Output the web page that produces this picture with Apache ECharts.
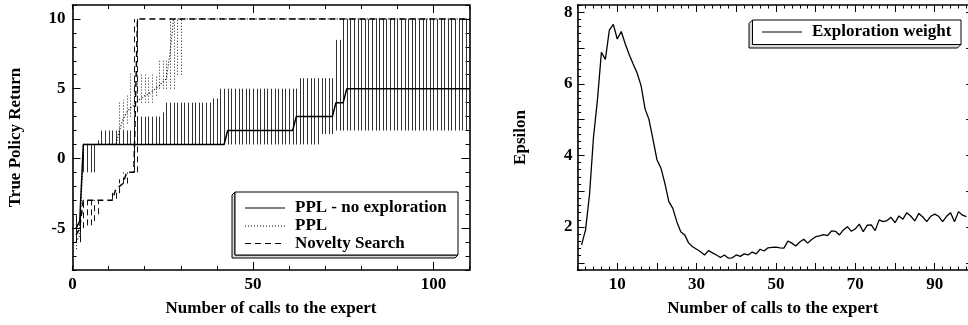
<!DOCTYPE html>
<html>
<head>
<meta charset="utf-8">
<script src="https://cdn.jsdelivr.net/npm/echarts@6/dist/echarts.min.js"></script>
<style>
  html, body { margin: 0; padding: 0; background: #fff; }
  #chart { width: 968px; height: 325px; }
</style>
</head>
<body>
<div id="chart"></div>
<script>
// ---- Left panel: true policy return per number of expert calls (x = 1..110) ----
// PPL - no exploration: median, lower and upper bounds
const noExpMed = [
  -5, -4.5, 1, 1, 1, 1, 1, 1, 1, 1,
  1, 1, 1, 1, 1, 1, 1, 1, 1, 1,
  1, 1, 1, 1, 1, 1, 1, 1, 1, 1,
  1, 1, 1, 1, 1, 1, 1, 1, 1, 1,
  1, 1, 2, 2, 2, 2, 2, 2, 2, 2,
  2, 2, 2, 2, 2, 2, 2, 2, 2, 2,
  2, 3, 3, 3, 3, 3, 3, 3, 3, 3,
  3, 3, 4, 4, 4, 5, 5, 5, 5, 5,
  5, 5, 5, 5, 5, 5, 5, 5, 5, 5,
  5, 5, 5, 5, 5, 5, 5, 5, 5, 5,
  5, 5, 5, 5, 5, 5, 5, 5, 5, 5
];
const noExpLo = [
  -6, -6, -1, -1, -1, -1, 1, 1, 1, 1,
  1, 1, 1, 1, 1, 1, 1, 1, 1, 1,
  1, 1, 1, 1, 1, 1, 1, 1, 1, 1,
  1, 1, 1, 1, 1, 1, 1, 1, 1, 1,
  1, 1, 1, 1, 1, 1, 1, 1, 1, 1,
  1, 1, 1, 1, 1, 1, 1, 1, 1, 1,
  1, 1, 1, 1, 1, 1, 1, 1, 1.75, 1.75,
  1.75, 1.75, 2, 2, 2, 2, 2, 2, 2, 2,
  2, 2, 2, 2, 2, 2, 2, 2, 2, 2,
  2, 2, 2, 2, 2, 2, 2, 2, 2, 2,
  2, 2, 2, 2, 2, 2, 2, 2, 2, 2
];
const noExpHi = [
  -4, -3, 1, 1, 1, 1, 1.3, 2, 2, 2,
  2, 2, 2, 2, 2, 2, 2, 3, 3, 3,
  3, 3, 3, 3, 3.3, 4, 4, 4, 4, 4,
  4, 4, 4, 4, 4, 4, 4, 4, 4.3, 4.3,
  5, 5, 5, 5, 5, 5, 5, 5, 5, 5,
  5, 5, 5, 5, 5, 5, 5, 5, 5, 5,
  5, 5, 5.75, 5.75, 5.75, 5.75, 5.75, 5.75, 5.75, 5.75,
  5.75, 5.75, 8.5, 8.5, 10, 10, 10, 10, 10, 10,
  10, 10, 10, 10, 10, 10, 10, 10, 10, 10,
  10, 10, 10, 10, 10, 10, 10, 10, 10, 10,
  10, 10, 10, 10, 10, 10, 10, 10, 10, 10
];
// PPL
const pplMed = [
  -6, -5.5, 1, 1, 1, 1, 1, 1, 1, 1,
  1, 1, 2, 2.8, 3.3, 3.6, 3.8, 4.1, 4.3, 4.5,
  4.6, 4.8, 5, 5.2, 5.5, 5.7, 7.5, 10, 10, 10,
  10, 10, 10, 10, 10, 10, 10, 10, 10, 10,
  10, 10, 10, 10, 10, 10, 10, 10, 10, 10,
  10, 10, 10, 10, 10, 10, 10, 10, 10, 10,
  10, 10, 10, 10, 10, 10, 10, 10, 10, 10,
  10, 10, 10, 10, 10, 10, 10, 10, 10, 10,
  10, 10, 10, 10, 10, 10, 10, 10, 10, 10,
  10, 10, 10, 10, 10, 10, 10, 10, 10, 10,
  10, 10, 10, 10, 10, 10, 10, 10, 10, 10
];
const pplLo = [
  -6.5, -6, 1, 1, 1, 1, 1, 1, 1, 1,
  1, 1, 2, 2, 2.5, 3, 3.5, 4, 4, 4,
  4, 4, 4.5, 5, 5, 5, 5, 5, 6, 6,
  10, 10, 10, 10, 10, 10, 10, 10, 10, 10,
  10, 10, 10, 10, 10, 10, 10, 10, 10, 10,
  10, 10, 10, 10, 10, 10, 10, 10, 10, 10,
  10, 10, 10, 10, 10, 10, 10, 10, 10, 10,
  10, 10, 10, 10, 10, 10, 10, 10, 10, 10,
  10, 10, 10, 10, 10, 10, 10, 10, 10, 10,
  10, 10, 10, 10, 10, 10, 10, 10, 10, 10,
  10, 10, 10, 10, 10, 10, 10, 10, 10, 10
];
const pplHi = [
  -5, -4.5, 1, 1, 1, 1, 1, 1, 1, 1,
  1, 1, 4, 4.2, 4.5, 6.2, 6, 6, 6, 6,
  5.8, 6, 6, 7, 7, 7, 10, 10, 10, 10,
  10, 10, 10, 10, 10, 10, 10, 10, 10, 10,
  10, 10, 10, 10, 10, 10, 10, 10, 10, 10,
  10, 10, 10, 10, 10, 10, 10, 10, 10, 10,
  10, 10, 10, 10, 10, 10, 10, 10, 10, 10,
  10, 10, 10, 10, 10, 10, 10, 10, 10, 10,
  10, 10, 10, 10, 10, 10, 10, 10, 10, 10,
  10, 10, 10, 10, 10, 10, 10, 10, 10, 10,
  10, 10, 10, 10, 10, 10, 10, 10, 10, 10
];
// Novelty Search
const nsMed = [
  -5.5, -5, -3, -3, -3, -3, -3, -3, -3, -3,
  -3, -2.2, -2, -1.8, -1, -1, -1, 10, 10, 10,
  10, 10, 10, 10, 10, 10, 10, 10, 10, 10,
  10, 10, 10, 10, 10, 10, 10, 10, 10, 10,
  10, 10, 10, 10, 10, 10, 10, 10, 10, 10,
  10, 10, 10, 10, 10, 10, 10, 10, 10, 10,
  10, 10, 10, 10, 10, 10, 10, 10, 10, 10,
  10, 10, 10, 10, 10, 10, 10, 10, 10, 10,
  10, 10, 10, 10, 10, 10, 10, 10, 10, 10,
  10, 10, 10, 10, 10, 10, 10, 10, 10, 10,
  10, 10, 10, 10, 10, 10, 10, 10, 10, 10
];
const nsLo = [
  -6, -6, -5, -4.8, -4.8, -4.5, -4, -3, -3, -3,
  -2.9, -2.9, -2.5, -1.8, -1.8, -1, -1, -1, 10, 10,
  10, 10, 10, 10, 10, 10, 10, 10, 10, 10,
  10, 10, 10, 10, 10, 10, 10, 10, 10, 10,
  10, 10, 10, 10, 10, 10, 10, 10, 10, 10,
  10, 10, 10, 10, 10, 10, 10, 10, 10, 10,
  10, 10, 10, 10, 10, 10, 10, 10, 10, 10,
  10, 10, 10, 10, 10, 10, 10, 10, 10, 10,
  10, 10, 10, 10, 10, 10, 10, 10, 10, 10,
  10, 10, 10, 10, 10, 10, 10, 10, 10, 10,
  10, 10, 10, 10, 10, 10, 10, 10, 10, 10
];
const nsHi = [
  -4, -4, -3, -3, -3, -3, -3, -3, -3, -3,
  -2.2, -2.2, -1.5, -1, -1, -1, 10, 10, 10, 10,
  10, 10, 10, 10, 10, 10, 10, 10, 10, 10,
  10, 10, 10, 10, 10, 10, 10, 10, 10, 10,
  10, 10, 10, 10, 10, 10, 10, 10, 10, 10,
  10, 10, 10, 10, 10, 10, 10, 10, 10, 10,
  10, 10, 10, 10, 10, 10, 10, 10, 10, 10,
  10, 10, 10, 10, 10, 10, 10, 10, 10, 10,
  10, 10, 10, 10, 10, 10, 10, 10, 10, 10,
  10, 10, 10, 10, 10, 10, 10, 10, 10, 10,
  10, 10, 10, 10, 10, 10, 10, 10, 10, 10
];

// ---- Right panel: exploration weight (epsilon) per call (x = 1..98) ----
const epsilon = [
  1.50, 1.92, 2.90, 4.50, 5.55, 6.88, 6.68, 7.50, 7.66, 7.25,
  7.46, 7.12, 6.82, 6.55, 6.30, 5.95, 5.30, 5.00, 4.45, 3.88,
  3.65, 3.22, 2.71, 2.52, 2.15, 1.87, 1.78, 1.55, 1.45, 1.38,
  1.31, 1.22, 1.34, 1.28, 1.22, 1.15, 1.22, 1.13, 1.14, 1.22,
  1.18, 1.25, 1.22, 1.30, 1.25, 1.38, 1.33, 1.42, 1.43, 1.44,
  1.42, 1.41, 1.61, 1.55, 1.47, 1.58, 1.66, 1.55, 1.65, 1.73,
  1.75, 1.79, 1.76, 1.89, 1.88, 1.78, 1.92, 2.01, 1.88, 1.95,
  2.08, 1.87, 2.05, 2.06, 1.90, 2.20, 2.15, 2.18, 2.27, 2.12,
  2.31, 2.22, 2.40, 2.30, 2.17, 2.38, 2.28, 2.15, 2.30, 2.36,
  2.30, 2.15, 2.30, 2.40, 2.15, 2.43, 2.33, 2.29
];

// Tick labels
const leftXLabels = [0, 50, 100];
const leftYLabels = [-5, 0, 5, 10];
const rightXLabels = [10, 30, 50, 70, 90];
const rightYLabels = [2, 4, 6, 8];

const legendLeft = ['PPL - no exploration', 'PPL', 'Novelty Search'];
const legendRight = ['Exploration weight'];

// ---- helpers ----
const FONT = '"Liberation Serif", "Times New Roman", serif';
const txt = { fontFamily: FONT, fontWeight: 'bold', fontSize: 17, color: '#000' };

function steps(a, b, step) {
  const out = [];
  const n = Math.round((b - a) / step);
  for (let i = 0; i <= n; i++) out.push(+(a + i * step).toFixed(4));
  return out;
}

function axis(grid, pos, min, max, ticks, len, opts) {
  opts = opts || {};
  const a = {
    type: 'value', gridIndex: grid, position: pos, min: min, max: max,
    axisLine: { show: !!opts.line, onZero: false, lineStyle: { color: '#000', width: 1.6 } },
    axisTick: { show: true, inside: true, length: len, customValues: ticks,
                lineStyle: { color: '#000', width: 1 } },
    axisLabel: { show: false },
    splitLine: { show: false }
  };
  if (opts.labels) {
    a.axisLabel = Object.assign({ show: true, customValues: opts.labels, margin: opts.margin }, txt);
  }
  if (opts.name) {
    a.name = opts.name;
    a.nameLocation = 'middle';
    a.nameGap = opts.nameGap;
    a.nameTextStyle = Object.assign({}, txt);
  }
  return a;
}

const L = { xMin: 0, xMax: 110, yMin: -8, yMax: 11 };
const R = { xMin: 0, xMax: 98.4, yMin: 0.8, yMax: 8.2 };

const xAxes = [
  axis(0, 'bottom', L.xMin, L.xMax, steps(0, 110, 10), 4, { line: true }),
  axis(0, 'bottom', L.xMin, L.xMax, [50, 100], 8,
       { labels: leftXLabels, margin: 6, name: 'Number of calls to the expert', nameGap: 30 }),
  axis(0, 'top', L.xMin, L.xMax, steps(0, 110, 10), 4, { line: true }),
  axis(0, 'top', L.xMin, L.xMax, [50, 100], 8),
  axis(1, 'bottom', R.xMin, R.xMax, steps(0, 98, 2), 3.5, { line: true }),
  axis(1, 'bottom', R.xMin, R.xMax, steps(10, 90, 10), 7,
       { labels: rightXLabels, margin: 6, name: 'Number of calls to the expert', nameGap: 30 }),
  axis(1, 'top', R.xMin, R.xMax, steps(0, 98, 2), 3.5, { line: true }),
  axis(1, 'top', R.xMin, R.xMax, steps(10, 90, 10), 7)
];
const yAxes = [
  axis(0, 'left', L.yMin, L.yMax, steps(-8, 11, 1), 4, { line: true }),
  axis(0, 'left', L.yMin, L.yMax, [-5, 0, 5, 10], 8,
       { labels: leftYLabels, margin: 7, name: 'True Policy Return', nameGap: 48 }),
  axis(0, 'right', L.yMin, L.yMax, steps(-8, 11, 1), 4, { line: true }),
  axis(0, 'right', L.yMin, L.yMax, [-5, 0, 5, 10], 8),
  axis(1, 'left', R.yMin, R.yMax, steps(0.8, 8.2, 0.2), 3.5, { line: true }),
  axis(1, 'left', R.yMin, R.yMax, steps(1, 8, 1), 7,
       { labels: rightYLabels, margin: 5, name: 'Epsilon', nameGap: 48 }),
  axis(1, 'right', R.yMin, R.yMax, steps(1, 8, 1), 2)
];

// vertical spread bars drawn through the axis scales, snapped to the pixel grid
function spreadBars(lo, hi, dash, color) {
  return {
    type: 'custom', xAxisIndex: 0, yAxisIndex: 0, silent: true, clip: true, z: 2,
    data: lo.map((v, i) => [i + 1, v, hi[i]]),
    encode: { x: 0, y: [1, 2] },
    renderItem: function (params, api) {
      const a = api.coord([api.value(0), api.value(1)]);
      const b = api.coord([api.value(0), api.value(2)]);
      const x = Math.round(a[0]) + 0.5;
      return {
        type: 'line',
        shape: { x1: x, y1: a[1], x2: x, y2: b[1] },
        style: { stroke: color, lineWidth: 1, lineDash: dash }
      };
    }
  };
}

function medianLine(name, vals, width, dash, xi, yi) {
  return {
    name: name, type: 'line', xAxisIndex: xi || 0, yAxisIndex: yi || 0,
    data: vals.map((v, i) => [i + 1, v]),
    showSymbol: false, symbol: 'none', silent: true, z: 3,
    lineStyle: { color: '#000', width: width, type: dash || 'solid' }
  };
}

const DOT = [1, 2];
const DASH = [6, 4];

const series = [
  spreadBars(noExpLo, noExpHi, null, '#333'),
  spreadBars(pplLo, pplHi, DOT, '#222'),
  spreadBars(nsLo, nsHi, DASH, '#111'),
  medianLine(legendLeft[0], noExpMed, 1.5, null),
  medianLine(legendLeft[1], pplMed, 1.2, DOT),
  medianLine(legendLeft[2], nsMed, 1.5, DASH),
  medianLine(legendRight[0], epsilon, 1.3, null, 4, 4)
];

// legend boxes with a bevelled edge
function legendBox(x0, y0, x1, y1, d) {
  return [
    { type: 'polygon', silent: true, z: 10,
      shape: { points: [[x0, y0], [x0 - d, y0 + d], [x0 - d, y1 + d], [x1 - d, y1 + d], [x1, y1], [x0, y1]] },
      style: { fill: '#d8d8d8', stroke: '#000', lineWidth: 1 } },
    { type: 'rect', silent: true, z: 11,
      shape: { x: x0, y: y0, width: x1 - x0, height: y1 - y0 },
      style: { fill: '#fff', stroke: '#000', lineWidth: 1 } }
  ];
}
function legendRow(x, y, label, dash) {
  return [
    { type: 'line', silent: true, z: 12,
      shape: { x1: x, y1: y, x2: x + 40, y2: y },
      style: { stroke: '#000', lineWidth: 1.2, lineDash: dash } },
    { type: 'text', silent: true, z: 12, x: x + 50, y: y,
      style: { text: label, font: 'bold 17px ' + FONT, fill: '#000', textVerticalAlign: 'middle', verticalAlign: 'middle' } }
  ];
}

const graphics = [].concat(
  legendBox(235, 192, 458, 255, 3),
  legendRow(245, 208, legendLeft[0], null),
  legendRow(245, 226, legendLeft[1], DOT),
  legendRow(245, 243.5, legendLeft[2], DASH),
  legendBox(752.5, 20, 961, 44.5, 3.5),
  legendRow(762, 32, legendRight[0], null)
);

const chart = echarts.init(document.getElementById('chart'), null, { renderer: 'canvas' });
chart.setOption({
  animation: false,
  backgroundColor: '#fff',
  grid: [
    { left: 72.5, top: 5, width: 397, height: 265 },
    { left: 577.6, top: 5, right: 0, height: 265 }
  ],
  xAxis: xAxes,
  yAxis: yAxes,
  series: series,
  graphic: graphics
});
</script>
</body>
</html>
